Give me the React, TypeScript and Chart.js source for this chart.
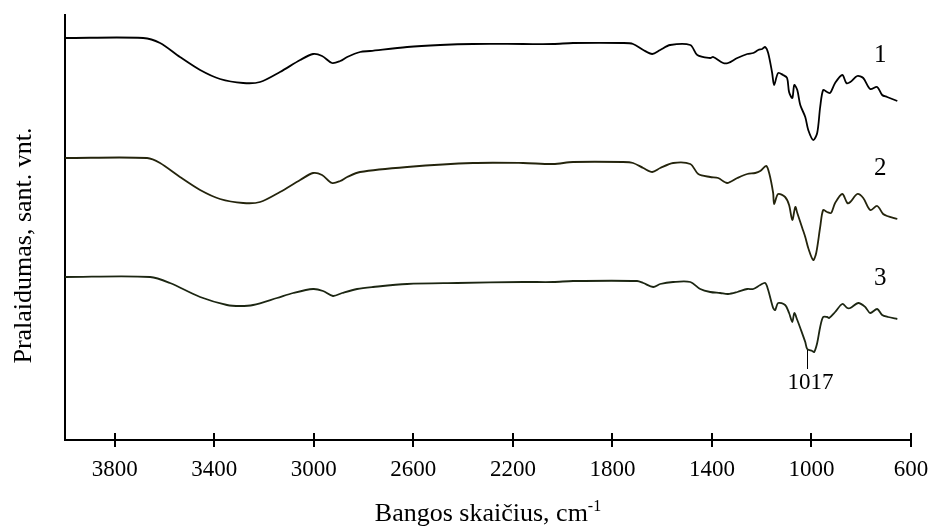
import React, { useEffect, useRef } from "react";
import { Chart, registerables } from "chart.js";

Chart.register(...registerables);

const FONT = "'Liberation Serif', 'Times New Roman', serif";

// x-axis tick labels (wavenumber, cm-1)
const tickValues = [3800, 3400, 3000, 2600, 2200, 1800, 1400, 1000, 600];

// Spectrum 1
const s1Wn = [4000, 3686, 3618, 3538, 3457, 3377, 3284, 3216, 3136, 3055, 3003, 2967, 2927, 2894, 2866, 2814, 2774, 2625, 2492, 2360, 2159, 2038, 1958, 1757, 1717, 1676, 1640, 1608, 1568, 1487, 1459, 1407, 1395, 1355, 1335, 1298, 1258, 1234, 1214, 1198, 1186, 1174, 1158, 1150, 1134, 1114, 1098, 1090, 1077, 1069, 1057, 1045, 1025, 1013, 993, 977, 965, 953, 937, 925, 905, 876, 860, 844, 816, 792, 764, 736, 716, 696, 655];
const s1Val = [402, 402, 397, 383, 370, 361, 357, 358, 368, 380, 386, 384, 377, 379, 383, 388, 389, 393, 395, 396, 396, 396, 397, 397, 396, 390, 386, 390, 395, 395, 385, 382, 383, 377, 377, 382, 386, 387, 390, 391, 393, 387, 367, 355, 367, 365, 362, 348, 342, 355, 350, 335, 323, 310, 300, 307, 333, 350, 348, 347, 357, 365, 357, 358, 364, 362, 351, 353, 345, 343, 339];

// Spectrum 2
const s2Wn = [4000, 3670, 3618, 3538, 3457, 3377, 3284, 3216, 3136, 3055, 3003, 2967, 2927, 2894, 2866, 2814, 2625, 2360, 2159, 2038, 1958, 1757, 1717, 1676, 1640, 1608, 1556, 1487, 1455, 1407, 1375, 1339, 1298, 1258, 1226, 1206, 1182, 1170, 1154, 1150, 1134, 1106, 1090, 1077, 1065, 1057, 1037, 1025, 1013, 993, 981, 965, 953, 937, 921, 905, 876, 856, 844, 816, 792, 764, 736, 712, 696, 655];
const s2Val = [282, 282, 277, 263, 250, 241, 237, 238, 248, 260, 267, 265, 257, 259, 263, 268, 273, 277, 277, 276, 278, 278, 277, 272, 268, 272, 277, 276, 266, 263, 262, 257, 262, 266, 267, 269, 274, 267, 247, 236, 246, 243, 235, 220, 233, 227, 212, 203, 192, 180, 187, 213, 230, 228, 227, 237, 246, 237, 238, 246, 242, 230, 234, 226, 224, 221];

// Spectrum 3
const s3Wn = [4000, 3658, 3578, 3457, 3349, 3296, 3244, 3148, 3083, 3003, 2963, 2923, 2886, 2826, 2762, 2625, 2424, 2159, 2038, 1958, 1701, 1676, 1636, 1608, 1556, 1487, 1447, 1407, 1367, 1335, 1298, 1258, 1234, 1206, 1186, 1174, 1154, 1146, 1134, 1106, 1090, 1077, 1069, 1057, 1045, 1025, 1017, 997, 989, 977, 965, 953, 937, 929, 905, 876, 856, 844, 812, 784, 764, 736, 716, 692, 655];
const s3Val = [163, 163, 157, 143, 135, 134, 135, 142, 147, 151, 149, 144, 147, 151, 153, 156, 157, 158, 158, 159, 159, 157, 153, 156, 158, 158, 151, 148, 147, 146, 148, 151, 151, 155, 157, 150, 132, 130, 137, 135, 127, 118, 127, 120, 112, 98, 91, 89, 88, 97, 113, 123, 123, 122, 128, 136, 132, 132, 137, 133, 127, 131, 125, 123, 121];

// Curve labels
const seriesLabels = ["1", "2", "3"];
const labelWn = [724, 724, 724];
const labelVal = [385, 272, 162];

// Peak annotation on spectrum 3
const peakLabel = "1017";
const peakWn = 1017;
const peakLineTop = 90;
const peakLineBottom = 71;
const peakTextVal = 57;

const xTitle = "Bangos skaičius, cm";
const xTitleSup = "-1";
const yTitle = "Pralaidumas, sant. vnt.";

export default function App() {
  const ref = useRef<HTMLCanvasElement>(null);

  useEffect(() => {
    const canvas = ref.current;
    if (!canvas) return;
    const mk = (wn: number[], val: number[]) => wn.map((x, i) => ({ x, y: val[i] }));

    const overlay = {
      id: "overlay",
      afterDraw(chart: any) {
        const { ctx, chartArea, scales } = chart;
        const xs = scales.x;
        const ys = scales.y;
        ctx.save();
        // crossing tick marks
        ctx.strokeStyle = "#000";
        ctx.lineWidth = 2;
        tickValues.forEach((v) => {
          const px = Math.round(xs.getPixelForValue(v));
          ctx.beginPath();
          ctx.moveTo(px, chartArea.bottom - 7);
          ctx.lineTo(px, chartArea.bottom + 7);
          ctx.stroke();
        });
        // series labels
        ctx.fillStyle = "#000";
        ctx.font = `25px ${FONT}`;
        ctx.textAlign = "center";
        ctx.textBaseline = "middle";
        seriesLabels.forEach((t, i) => {
          ctx.fillText(t, xs.getPixelForValue(labelWn[i]), ys.getPixelForValue(labelVal[i]));
        });
        // peak annotation
        const ppx = Math.round(xs.getPixelForValue(peakWn)) + 0.5;
        ctx.lineWidth = 1;
        ctx.beginPath();
        ctx.moveTo(ppx, ys.getPixelForValue(peakLineTop));
        ctx.lineTo(ppx, ys.getPixelForValue(peakLineBottom));
        ctx.stroke();
        ctx.font = `23px ${FONT}`;
        ctx.fillText(peakLabel, ppx + 3, ys.getPixelForValue(peakTextVal));
        // x-axis title with superscript
        ctx.textAlign = "left";
        ctx.textBaseline = "alphabetic";
        ctx.font = `26px ${FONT}`;
        const w1 = ctx.measureText(xTitle).width;
        ctx.font = `16px ${FONT}`;
        const w2 = ctx.measureText(xTitleSup).width;
        const cx = (chartArea.left + chartArea.right) / 2;
        const start = cx - (w1 + w2) / 2;
        const by = chartArea.bottom + 81;
        ctx.font = `26px ${FONT}`;
        ctx.fillText(xTitle, start, by);
        ctx.font = `16px ${FONT}`;
        ctx.fillText(xTitleSup, start + w1, by - 10);
        // y-axis title
        ctx.font = `26px ${FONT}`;
        ctx.textAlign = "center";
        ctx.textBaseline = "middle";
        ctx.translate(chartArea.left - 41, (chartArea.top + chartArea.bottom) / 2 + 18);
        ctx.rotate(-Math.PI / 2);
        ctx.fillText(yTitle, 0, 0);
        ctx.restore();
      },
    };

    const ds = (data: any, color: string) => ({
      data,
      borderColor: color,
      borderWidth: 1.8,
      pointRadius: 0,
      fill: false,
      tension: 0.3,
    });

    const chart = new Chart(canvas, {
      type: "line",
      data: {
        datasets: [
          ds(mk(s1Wn, s1Val), "#000000"),
          ds(mk(s2Wn, s2Val), "#24240c"),
          ds(mk(s3Wn, s3Val), "#1c2612"),
        ],
      },
      options: {
        responsive: false,
        animation: false,
        layout: { padding: { top: 15, right: 21, left: 0, bottom: 0 } },
        plugins: {
          legend: { display: false },
          tooltip: { enabled: false },
          title: { display: false },
        },
        scales: {
          x: {
            type: "linear",
            reverse: true,
            min: 600,
            max: 4000,
            afterBuildTicks: (s: any) => {
              s.ticks = tickValues.map((v) => ({ value: v }));
            },
            afterFit: (s: any) => {
              s.height = 86;
            },
            grid: { display: false, drawTicks: true, tickLength: 16 },
            border: { display: true, color: "#000", width: 2 },
            ticks: {
              color: "#000",
              font: { family: FONT, size: 23 },
              padding: 0,
              maxRotation: 0,
              autoSkip: false,
              callback: (v: any) => String(v),
            },
          },
          y: {
            type: "linear",
            min: 0,
            max: 425,
            afterFit: (s: any) => {
              s.width = 65;
            },
            grid: { display: false, drawTicks: false },
            border: { display: true, color: "#000", width: 2 },
            ticks: { display: false },
          },
        },
      },
      plugins: [overlay],
    });

    return () => chart.destroy();
  }, []);

  return (
    <div style={{ position: "fixed", left: 0, top: 0, width: 932, height: 526, background: "#fff" }}>
      <canvas ref={ref} width={932} height={526} style={{ display: "block" }} />
    </div>
  );
}
